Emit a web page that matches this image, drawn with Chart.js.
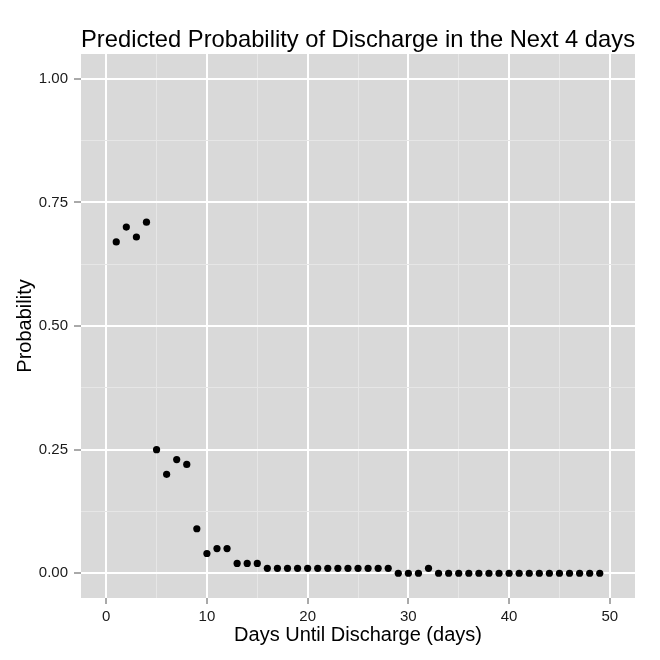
<!DOCTYPE html>
<html>
<head>
<meta charset="utf-8">
<script src="https://cdn.jsdelivr.net/npm/chart.js@4"></script>
<style>
  html, body { margin: 0; padding: 0; background: #ffffff; }
  canvas { display: block; }
</style>
</head>
<body>
<canvas id="c" width="660" height="660"></canvas>
<script>
// ---- data ----
const days = [1,2,3,4,5,6,7,8,9,10,11,12,13,14,15,16,17,18,19,20,21,22,23,24,25,26,27,28,29,30,31,32,33,34,35,36,37,38,39,40,41,42,43,44,45,46,47,48,49];
const probability = [0.67,0.70,0.68,0.71,0.25,0.20,0.23,0.22,0.09,0.04,0.05,0.05,0.02,0.02,0.02,
  0.01,0.01,0.01,0.01,0.01,0.01,0.01,0.01,0.01,0.01,0.01,0.01,0.01,
  0.00,0.00,0.00,0.01,
  0.00,0.00,0.00,0.00,0.00,0.00,0.00,0.00,0.00,0.00,0.00,0.00,0.00,0.00,0.00,0.00,0.00];
const xMajorTicks = [0,10,20,30,40,50];
const xMinorTicks = [5,15,25,35,45];
const yMajorTicks = [0,0.25,0.5,0.75,1];
const yTickLabels = ['0.00','0.25','0.50','0.75','1.00'];
const yMinorTicks = [0.125,0.375,0.625,0.875];

const titleText = 'Predicted Probability of Discharge in the Next 4 days';
const xTitle = 'Days Until Discharge (days)';
const yTitle = 'Probability';

const FONT = "'Liberation Sans', Arial, Helvetica, sans-serif";
const PANEL_BG = '#D9D9D9';
const MINOR = '#E6E6E6';

const isMajor = (list, v) => list.some(m => Math.abs(m - v) < 1e-9);

const panelBg = {
  id: 'panelBg',
  beforeDraw(chart) {
    const {ctx, chartArea: a} = chart;
    ctx.save();
    ctx.fillStyle = PANEL_BG;
    ctx.fillRect(a.left, a.top, a.right - a.left, a.bottom - a.top);
    ctx.restore();
  }
};

new Chart(document.getElementById('c'), {
  type: 'scatter',
  data: {
    datasets: [{
      data: days.map((d, i) => ({x: d, y: probability[i]})),
      backgroundColor: '#000000',
      borderWidth: 0,
      pointRadius: 3.6,
      pointHoverRadius: 3.6
    }]
  },
  plugins: [panelBg],
  options: {
    responsive: false,
    animation: false,
    devicePixelRatio: 1,
    layout: { padding: { left: 0, right: 25, top: 0, bottom: 0 } },
    plugins: {
      legend: { display: false },
      tooltip: { enabled: false },
      title: {
        display: true,
        text: titleText,
        fullSize: false,
        color: '#000000',
        font: { family: FONT, size: 24, weight: 'normal', lineHeight: 1.1 },
        padding: { top: 27.4, bottom: 0.2 }
      }
    },
    scales: {
      x: {
        type: 'linear',
        min: -2.5,
        max: 52.5,
        afterBuildTicks(scale) {
          scale.ticks = xMajorTicks.concat(xMinorTicks).sort((a, b) => a - b).map(v => ({value: v}));
        },
        afterFit(scale) { scale.height = 62; },
        border: { display: false },
        grid: {
          drawTicks: true,
          tickLength: 6,
          color: ctx => isMajor(xMajorTicks, ctx.tick.value) ? '#FFFFFF' : MINOR,
          lineWidth: ctx => isMajor(xMajorTicks, ctx.tick.value) ? 2 : 1,
          tickColor: ctx => isMajor(xMajorTicks, ctx.tick.value) ? '#555555' : 'rgba(0,0,0,0)',
          tickWidth: 1
        },
        ticks: {
          autoSkip: false,
          maxRotation: 0,
          padding: 4,
          color: '#1a1a1a',
          font: { family: FONT, size: 15 },
          callback: v => isMajor(xMajorTicks, v) ? String(v) : ''
        },
        title: {
          display: true,
          text: xTitle,
          color: '#000000',
          font: { family: FONT, size: 20, lineHeight: 1.2 },
          padding: { top: 0, bottom: 13 }
        }
      },
      y: {
        type: 'linear',
        min: -0.05,
        max: 1.05,
        afterBuildTicks(scale) {
          scale.ticks = yMajorTicks.concat(yMinorTicks).sort((a, b) => a - b).map(v => ({value: v}));
        },
        afterFit(scale) { scale.width = 81; },
        border: { display: false },
        grid: {
          drawTicks: true,
          tickLength: 7,
          color: ctx => isMajor(yMajorTicks, ctx.tick.value) ? '#FFFFFF' : MINOR,
          lineWidth: ctx => isMajor(yMajorTicks, ctx.tick.value) ? 2 : 1,
          tickColor: ctx => isMajor(yMajorTicks, ctx.tick.value) ? '#555555' : 'rgba(0,0,0,0)',
          tickWidth: 1
        },
        ticks: {
          autoSkip: false,
          padding: 6,
          color: '#1a1a1a',
          font: { family: FONT, size: 15 },
          callback: v => {
            const i = yMajorTicks.findIndex(m => Math.abs(m - v) < 1e-9);
            return i >= 0 ? yTickLabels[i] : '';
          }
        },
        title: {
          display: true,
          text: yTitle,
          color: '#000000',
          font: { family: FONT, size: 20, lineHeight: 1.2 },
          padding: { top: 13, bottom: 0 }
        }
      }
    }
  }
});
</script>
</body>
</html>
